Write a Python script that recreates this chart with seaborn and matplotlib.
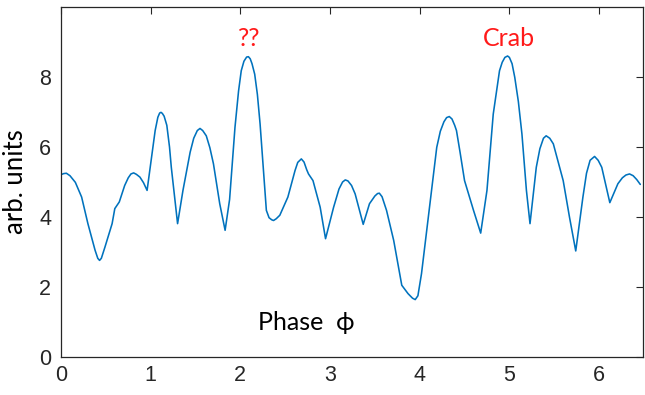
import numpy as np
import pandas as pd
import matplotlib
matplotlib.use("Agg")
import matplotlib.pyplot as plt
import seaborn as sns

# Traced curve (phase, arbitrary units)
phase = [0.00, 0.03, 0.06, 0.10, 0.16, 0.23, 0.30, 0.38, 0.41, 0.43, 0.45, 0.49,
         0.57, 0.60, 0.65, 0.71, 0.75, 0.78, 0.81, 0.84, 0.88, 0.92, 0.96, 1.01,
         1.05, 1.08, 1.10, 1.115, 1.13, 1.15, 1.18, 1.21, 1.23, 1.30, 1.36, 1.44,
         1.48, 1.52, 1.55, 1.58, 1.62, 1.66, 1.70, 1.77, 1.83, 1.88, 1.94, 1.98,
         2.01, 2.04, 2.07, 2.09, 2.11, 2.13, 2.16, 2.19, 2.22, 2.26, 2.29, 2.32,
         2.35, 2.37, 2.40, 2.44, 2.53, 2.61, 2.64, 2.68, 2.71, 2.74, 2.76, 2.81,
         2.89, 2.95, 3.04, 3.10, 3.14, 3.17, 3.20, 3.24, 3.28, 3.37, 3.44, 3.50,
         3.53, 3.55, 3.58, 3.63, 3.71, 3.80, 3.87, 3.92, 3.95, 3.98, 4.02, 4.11,
         4.19, 4.23, 4.27, 4.30, 4.33, 4.36, 4.39, 4.41, 4.45, 4.50, 4.60, 4.68,
         4.75, 4.82, 4.89, 4.92, 4.95, 4.98, 5.00, 5.03, 5.06, 5.10, 5.14, 5.19,
         5.23, 5.30, 5.34, 5.38, 5.41, 5.45, 5.49, 5.60, 5.67, 5.74, 5.82, 5.86,
         5.90, 5.95, 5.99, 6.03, 6.12, 6.21, 6.26, 6.30, 6.34, 6.38, 6.42, 6.46]
signal = [5.21, 5.24, 5.25, 5.18, 4.99, 4.57, 3.81, 3.05, 2.82, 2.76, 2.82, 3.14,
          3.81, 4.24, 4.43, 4.90, 5.12, 5.23, 5.26, 5.22, 5.14, 4.98, 4.76, 5.71,
          6.47, 6.85, 6.97, 6.99, 6.96, 6.88, 6.62, 6.00, 5.42, 3.81, 4.76, 5.85,
          6.25, 6.47, 6.53, 6.47, 6.32, 5.98, 5.52, 4.38, 3.62, 4.50, 6.56, 7.60,
          8.18, 8.45, 8.57, 8.58, 8.52, 8.38, 8.08, 7.50, 6.66, 5.23, 4.19, 3.98,
          3.92, 3.90, 3.95, 4.05, 4.57, 5.33, 5.56, 5.66, 5.57, 5.35, 5.23, 5.04,
          4.28, 3.38, 4.28, 4.80, 5.00, 5.06, 5.03, 4.90, 4.66, 3.79, 4.38, 4.60,
          4.67, 4.68, 4.58, 4.19, 3.33, 2.05, 1.81, 1.68, 1.64, 1.75, 2.38, 4.28,
          5.99, 6.45, 6.72, 6.84, 6.87, 6.80, 6.62, 6.47, 5.85, 5.04, 4.19, 3.54,
          4.76, 6.94, 8.18, 8.42, 8.56, 8.60, 8.56, 8.38, 7.99, 7.30, 6.37, 4.76,
          3.81, 5.42, 5.95, 6.25, 6.32, 6.25, 6.09, 5.04, 4.00, 3.03, 4.57, 5.25,
          5.62, 5.73, 5.62, 5.42, 4.41, 4.95, 5.12, 5.20, 5.23, 5.18, 5.07, 4.93]

xticks = [0, 1, 2, 3, 4, 5, 6]
yticks = [0, 2, 4, 6, 8]

df = pd.DataFrame({"phase": phase, "signal": signal})

sns.set_theme(style="white")
plt.rcParams["font.family"] = ["Liberation Sans", "DejaVu Sans"]

fig = plt.figure(figsize=(6.45, 3.95), dpi=100)
ax = fig.add_axes([61 / 645, 38 / 395, (643 - 61) / 645, (357 - 7) / 395])

sns.lineplot(data=df, x="phase", y="signal", ax=ax, color="#0072BD",
             linewidth=1.15, sort=False, estimator=None)

ax.set_xlim(0, 6.49)
ax.set_ylim(0, 10)
ax.set_xticks(xticks)
ax.set_yticks(yticks)
ax.set_xticklabels([str(t) for t in xticks])
ax.set_yticklabels([str(t) for t in yticks])
ax.tick_params(direction="in", length=5, width=0.8, colors="#262626",
               labelsize=15.5, top=True, right=True, labeltop=False,
               labelright=False, pad=6)
ax.tick_params(axis="y", pad=7)
for sp in ax.spines.values():
    sp.set_color("#262626")
    sp.set_linewidth(0.9)
    sp.set_visible(True)

ax.set_xlabel("")
ax.set_ylabel("arb. units", family=["Lato", "DejaVu Sans"], fontsize=18.5,
              color="black", labelpad=8)

ax.text(2.73, 0.98, "Phase  \u03d5", family=["Lato", "DejaVu Sans"],
        fontsize=18, color="black", ha="center", va="center")
ax.text(2.1, 9.1, "??", family=["Lato", "DejaVu Sans"], fontsize=18,
        color="#ff1a1a", ha="center", va="center")
ax.text(4.99, 9.1, "Crab", family=["Lato", "DejaVu Sans"], fontsize=18,
        color="#ff1a1a", ha="center", va="center")

fig.savefig("out.png", dpi=100)
